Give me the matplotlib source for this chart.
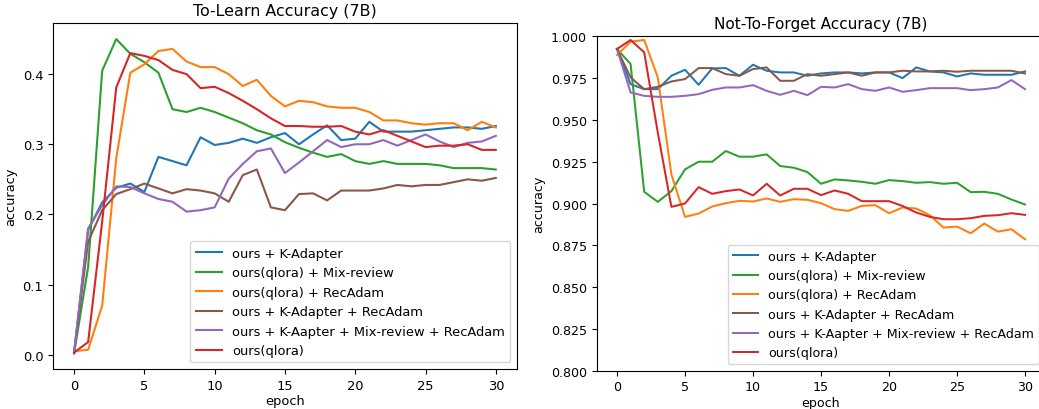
import matplotlib
matplotlib.use("Agg")
import matplotlib.pyplot as plt

plt.rcParams["font.size"] = 9.4

epochs = list(range(31))

labels = [
    "ours + K-Adapter",
    "ours(qlora) + Mix-review",
    "ours(qlora) + RecAdam",
    "ours + K-Adapter + RecAdam",
    "ours + K-Aapter + Mix-review + RecAdam",
    "ours(qlora)",
]
colors = ["#1f77b4", "#2ca02c", "#ff7f0e", "#8c564b", "#9467bd", "#d62728"]

# To-Learn accuracy
learn_kadapter = [0.003, 0.178, 0.217, 0.238, 0.244, 0.232, 0.282, 0.276, 0.270, 0.310, 0.299,
                  0.302, 0.308, 0.302, 0.310, 0.316, 0.300, 0.314, 0.327, 0.306, 0.308,
                  0.332, 0.318, 0.318, 0.318, 0.320, 0.322, 0.324, 0.324, 0.322, 0.326]
learn_mix = [0.002, 0.125, 0.405, 0.450, 0.429, 0.417, 0.402, 0.350, 0.346, 0.352, 0.346,
             0.338, 0.330, 0.320, 0.314, 0.303, 0.295, 0.288, 0.282, 0.286, 0.276,
             0.272, 0.276, 0.272, 0.272, 0.272, 0.270, 0.266, 0.266, 0.266, 0.264]
learn_recadam = [0.005, 0.007, 0.070, 0.280, 0.402, 0.414, 0.433, 0.436, 0.418, 0.410, 0.410,
                 0.400, 0.383, 0.392, 0.369, 0.354, 0.362, 0.360, 0.354, 0.352, 0.352,
                 0.346, 0.334, 0.334, 0.330, 0.328, 0.330, 0.330, 0.320, 0.332, 0.324]
learn_ka_rec = [0.002, 0.161, 0.206, 0.229, 0.236, 0.244, 0.237, 0.230, 0.236, 0.234, 0.230,
                0.218, 0.256, 0.264, 0.210, 0.206, 0.229, 0.230, 0.220, 0.234, 0.234,
                0.234, 0.237, 0.242, 0.240, 0.242, 0.242, 0.246, 0.250, 0.248, 0.252]
learn_all = [0.003, 0.180, 0.213, 0.240, 0.239, 0.230, 0.222, 0.218, 0.204, 0.206, 0.210,
             0.251, 0.272, 0.290, 0.294, 0.259, 0.274, 0.290, 0.306, 0.296, 0.300,
             0.300, 0.306, 0.298, 0.306, 0.314, 0.304, 0.296, 0.302, 0.304, 0.312]
learn_qlora = [0.003, 0.018, 0.190, 0.381, 0.430, 0.426, 0.420, 0.406, 0.400, 0.380, 0.382,
               0.373, 0.362, 0.350, 0.337, 0.326, 0.326, 0.325, 0.325, 0.326, 0.318,
               0.314, 0.320, 0.312, 0.304, 0.296, 0.298, 0.298, 0.300, 0.292, 0.292]

# Not-To-Forget accuracy
forget_kadapter = [0.9924, 0.9714, 0.9684, 0.9684, 0.9764, 0.9800, 0.9710, 0.9808, 0.9810, 0.9764, 0.9830,
                   0.9794, 0.9784, 0.9784, 0.9764, 0.9778, 0.9784, 0.9784, 0.9778, 0.9784, 0.9784,
                   0.9750, 0.9814, 0.9790, 0.9784, 0.9760, 0.9778, 0.9770, 0.9770, 0.9770, 0.9790]
forget_mix = [0.9924, 0.9834, 0.9070, 0.9010, 0.9074, 0.9204, 0.9250, 0.9250, 0.9314, 0.9280, 0.9280,
              0.9294, 0.9224, 0.9214, 0.9188, 0.9118, 0.9144, 0.9138, 0.9130, 0.9118, 0.9140,
              0.9134, 0.9124, 0.9128, 0.9118, 0.9124, 0.9068, 0.9070, 0.9058, 0.9024, 0.8994]
forget_recadam = [0.9888, 0.9968, 0.9978, 0.9754, 0.9174, 0.8920, 0.8940, 0.8982, 0.9002, 0.9016, 0.9012,
                  0.9030, 0.9010, 0.9026, 0.9022, 0.9002, 0.8966, 0.8956, 0.8986, 0.8990, 0.8942,
                  0.8976, 0.8970, 0.8930, 0.8856, 0.8862, 0.8822, 0.8880, 0.8832, 0.8846, 0.8786]
forget_ka_rec = [0.9924, 0.9754, 0.9684, 0.9698, 0.9730, 0.9744, 0.9810, 0.9810, 0.9774, 0.9764, 0.9804,
                 0.9814, 0.9734, 0.9734, 0.9774, 0.9764, 0.9774, 0.9784, 0.9764, 0.9784, 0.9784,
                 0.9794, 0.9790, 0.9790, 0.9794, 0.9788, 0.9794, 0.9794, 0.9794, 0.9794, 0.9778]
forget_all = [0.9924, 0.9664, 0.9644, 0.9638, 0.9638, 0.9644, 0.9654, 0.9680, 0.9694, 0.9694, 0.9708,
              0.9674, 0.9650, 0.9674, 0.9648, 0.9698, 0.9694, 0.9714, 0.9684, 0.9674, 0.9694,
              0.9668, 0.9678, 0.9690, 0.9690, 0.9690, 0.9678, 0.9684, 0.9694, 0.9738, 0.9684]
forget_qlora = [0.9924, 0.9978, 0.9904, 0.9424, 0.8980, 0.9000, 0.9098, 0.9058, 0.9074, 0.9084, 0.9048,
                0.9118, 0.9048, 0.9088, 0.9088, 0.9050, 0.9078, 0.9058, 0.9014, 0.9014, 0.9014,
                0.8985, 0.8946, 0.8920, 0.8906, 0.8906, 0.8912, 0.8926, 0.8930, 0.8942, 0.8932]

learn_series = [learn_kadapter, learn_mix, learn_recadam, learn_ka_rec, learn_all, learn_qlora]
forget_series = [forget_kadapter, forget_mix, forget_recadam, forget_ka_rec, forget_all, forget_qlora]

fig = plt.figure(figsize=(10.39, 4.10), dpi=100)
ax1 = fig.add_axes([0.0510, 0.0976, 0.4465, 0.8430])
ax2 = fig.add_axes([0.5742, 0.0934, 0.4320, 0.8156])

for s, lab, c in zip(learn_series, labels, colors):
    ax1.plot(epochs, s, color=c, label=lab, linewidth=1.5)
ax1.set_title("To-Learn Accuracy (7B)", fontsize=11.4)
ax1.set_xlabel("epoch", labelpad=2)
ax1.set_ylabel("accuracy")
ax1.set_xticks([0, 5, 10, 15, 20, 25, 30])
ax1.set_yticks([0.0, 0.1, 0.2, 0.3, 0.4])
ax1.legend(loc="lower right")

fs2 = 9.1
for s, lab, c in zip(forget_series, labels, colors):
    ax2.plot(epochs, s, color=c, label=lab, linewidth=1.45)
ax2.set_title("Not-To-Forget Accuracy (7B)", fontsize=11.0)
ax2.set_xlabel("epoch", labelpad=2, fontsize=fs2)
ax2.set_ylabel("accuracy", fontsize=fs2)
ax2.set_ylim(0.8, 1.0)
ax2.set_xticks([0, 5, 10, 15, 20, 25, 30])
ax2.set_yticks([0.800, 0.825, 0.850, 0.875, 0.900, 0.925, 0.950, 0.975, 1.000])
ax2.set_yticklabels(["0.800", "0.825", "0.850", "0.875", "0.900", "0.925", "0.950", "0.975", "1.000"])
ax2.tick_params(labelsize=fs2)
ax2.legend(loc="lower right", fontsize=fs2)

fig.savefig("out.png", dpi=100)
